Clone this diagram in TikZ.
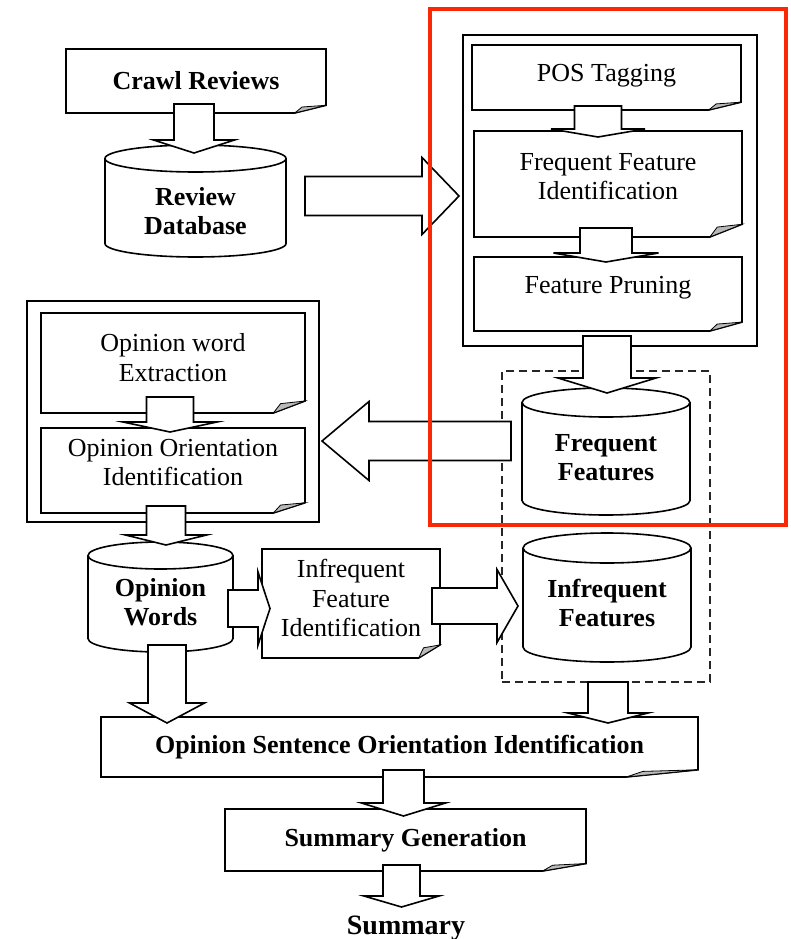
\documentclass[tikz,border=0pt]{standalone}
\usepackage{fontspec}
\setmainfont{Liberation Serif}
\usetikzlibrary{calc}
\definecolor{redframe}{RGB}{250,40,5}
\definecolor{foldgray}{RGB}{185,185,185}

\tikzset{
  ln/.style={line width=1.6pt, line join=miter},
  blk/.style={ln, fill=white, draw=black},
  shapebox/.style={draw=none, inner sep=0pt, outer sep=0pt},
  framebox/.style={ln, draw=black, fill=white, inner sep=0pt, outer sep=0pt},
  dashbox/.style={line width=1.6pt, draw=black!85, dash pattern=on 8pt off 5pt, inner sep=0pt, outer sep=0pt},
  redbox/.style={line width=4.5pt, draw=redframe, inner sep=0pt, outer sep=0pt},
  txt/.style={inner sep=0pt, align=center, font=\fontsize{26}{29.5}\selectfont},
  btxt/.style={inner sep=0pt, align=center, font=\fontsize{26}{28.5}\selectfont\bfseries},
}

% box node from image corners
\newcommand{\mkbox}[6][shapebox]{%
  \node[#1, minimum width={(#5-#3)*1pt}, minimum height={(#6-#4)*1pt}] (#2) at ({(#3+#5)/2},{(#4+#6)/2}) {};}

% document outline with folded corner
\newcommand{\docout}[1]{%
  \filldraw[blk] let \p1=(#1.south west), \p2=(#1.north east),
    \n1={0.12*(\x2-\x1)}, \n2={0.12*(\y2-\y1)} in
    (\x1,\y2) -- (\x2,\y2) -- (\x2,\y1+\n2) -- (\x2-\n1,\y1) -- (\x1,\y1) -- cycle;
  \filldraw[line width=0.8pt, fill=foldgray] let \p1=(#1.south west), \p2=(#1.north east),
    \n1={0.12*(\x2-\x1)}, \n2={0.12*(\y2-\y1)} in
    (\x2-\n1,\y1) -- (\x2-0.77*\n1,\y1+0.78*\n2) -- (\x2,\y1+\n2) -- cycle;}

% cylinder outline
\newcommand{\cylout}[2]{%
  \filldraw[blk] let \p1=(#1.south west), \p2=(#1.north east), \n1={(\x2-\x1)/2} in
    (\x1,\y2-#2) -- (\x1,\y1+#2) arc[start angle=180, end angle=360, x radius=\n1, y radius=#2]
    -- (\x2,\y2-#2) arc[start angle=0, end angle=180, x radius=\n1, y radius=#2] -- cycle;
  \draw[ln] let \p1=(#1.south west), \p2=(#1.north east), \n1={(\x2-\x1)/2} in
    (\x1,\y2-#2) arc[start angle=180, end angle=360, x radius=\n1, y radius=#2];}

% block arrows: start, tip, shaft half width, head half width, head length
\newcommand{\blockdown}[5]{%
  \filldraw[blk] let \p1=#1, \p2=#2 in
    (\x2-#3,\y1) -- (\x2+#3,\y1) -- (\x2+#3,\y2+#5) -- (\x2+#4,\y2+#5) -- (\x2,\y2)
    -- (\x2-#4,\y2+#5) -- (\x2-#3,\y2+#5) -- cycle;}
\newcommand{\blockright}[5]{%
  \filldraw[blk] let \p1=#1, \p2=#2 in
    (\x1,\y2+#3) -- (\x2-#5,\y2+#3) -- (\x2-#5,\y2+#4) -- (\x2,\y2)
    -- (\x2-#5,\y2-#4) -- (\x2-#5,\y2-#3) -- (\x1,\y2-#3) -- cycle;}
\newcommand{\blockleft}[5]{%
  \filldraw[blk] let \p1=#1, \p2=#2 in
    (\x1,\y2+#3) -- (\x2+#5,\y2+#3) -- (\x2+#5,\y2+#4) -- (\x2,\y2)
    -- (\x2+#5,\y2-#4) -- (\x2+#5,\y2-#3) -- (\x1,\y2-#3) -- cycle;}

\begin{document}
\begin{tikzpicture}[x=1pt, y=-1pt]
\useasboundingbox[fill=white] (0,0) rectangle (790,939);

% ---------- frames ----------
\mkbox[framebox]{outerR}{463}{35}{757}{346}
\mkbox[framebox]{opo}{27}{301}{319}{522}
\mkbox[dashbox]{dashed}{502}{371}{710}{682}

% ---------- document boxes ----------
\mkbox{crawl}{66}{49}{326}{113}
\mkbox{pos}{472}{45}{741}{110}
\mkbox{ffi}{474}{131}{742}{237}
\mkbox{fp}{474}{257}{742}{331}
\mkbox{owe}{41}{313}{305}{413}
\mkbox{ooi}{41}{428}{305}{513}
\mkbox{ifi}{262}{549}{440}{658}
\mkbox{osoi}{101}{717}{698}{777}
\mkbox{sg}{225}{809}{586}{871}
\foreach \b in {crawl,pos,ffi,fp,owe,ooi,ifi,osoi,sg} {\docout{\b}}

% ---------- cylinders ----------
\mkbox{db}{105}{145}{286}{257}
\mkbox{ff}{522}{388}{690}{515}
\mkbox{ow}{88}{542}{233}{652}
\mkbox{iff}{523}{533}{691}{662}
\cylout{db}{13.5pt}
\cylout{ff}{14.5pt}
\cylout{ow}{13.5pt}
\cylout{iff}{15pt}

% ---------- texts ----------
\node[btxt] (crawlt) at (crawl.center) {Crawl Reviews};
\node[txt] (post) at ($(pos.center)+(0,-1.5)$) {POS Tagging};
\node[txt] (ffit) at ($(ffi.center)+(0,-7.5)$) {Frequent Feature\\Identification};
\node[txt] (fpt) at ($(fp.center)+(0,-6)$) {Feature Pruning};
\node[txt] (owet) at ($(owe.center)+(0,-5.5)$) {Opinion word\\Extraction};
\node[txt] (ooit) at ($(ooi.center)+(0,-8)$) {Opinion Orientation\\Identification};
\node[txt] (ifit) at ($(ifi.center)+(0,-5.5)$) {Infrequent\\Feature\\Identification};
\node[btxt] (osoit) at (osoi.center) {Opinion Sentence Orientation Identification};
\node[btxt] (sgt) at (sg.center) {Summary Generation};
\node[btxt] (dbt) at ($(db.center)+(0,10)$) {Review\\Database};
\node[btxt] (fft) at ($(ff.center)+(0,6)$) {Frequent\\Features};
\node[btxt] (owt) at ($(ow.center)+(0,5)$) {Opinion\\Words};
\node[btxt] (ifft) at ($(iff.center)+(0,5.5)$) {Infrequent\\Features};
\node[inner sep=0pt, font=\fontsize{28}{32}\selectfont\bfseries] (sum) at (406,928) {Summary};

% ---------- block arrows ----------
\blockdown{($(crawl.south)+(0,-9)$)}{($(db.north)+(-1.5,8)$)}{20pt}{40.5pt}{13pt}
\blockright{($(db.east)+(19,0)$)}{($(outerR.west)+(-4,5.5)$)}{19.5pt}{38.5pt}{37pt}
\blockdown{($(pos.south)+(0,-4)$)}{($(ffi.north)+(-10,6)$)}{23.5pt}{47pt}{8pt}
\blockdown{($(ffi.south)+(0,-9)$)}{($(fp.north)+(-2,5)$)}{26pt}{52.5pt}{9pt}
\blockdown{($(outerR.south)+(0,-10)$)}{($(ff.north)+(1,5)$)}{24pt}{49pt}{15pt}
\blockleft{($(dashed.west)+(9,0)$)}{($(opo.east)+(3,29.5)$)}{19.5pt}{39.5pt}{47pt}
\blockdown{($(owe.south)+(0,-16)$)}{($(ooi.north)+(-3,4)$)}{23.5pt}{47pt}{10pt}
\blockdown{($(ooi.south)+(0,-7)$)}{($(ow.north)+(5.5,3)$)}{19.5pt}{40.5pt}{10pt}
\blockright{($(ow.east)+(-5,0)$)}{($(ifi.west)+(8,5)$)}{18.5pt}{36.5pt}{12pt}
\blockright{($(ifi.east)+(-8,0)$)}{($(iff.west)+(-5,8.5)$)}{18pt}{36.5pt}{21pt}
\blockdown{($(ow.south)+(0,-7)$)}{($(osoi.north west)+(66,6)$)}{19pt}{37.5pt}{20pt}
\blockdown{(dashed.south)}{($(osoi.north east)+(-90,6)$)}{20pt}{40pt}{10pt}
\blockdown{($(osoi.south)+(0,-7)$)}{($(sg.north)+(-2,7)$)}{20.5pt}{42pt}{13pt}
\blockdown{($(sg.south)+(0,-6)$)}{($(sg.south)+(-4,36)$)}{18.5pt}{37.5pt}{11pt}

% ---------- red highlight ----------
\mkbox[redbox]{red}{430}{9}{786}{525}
\end{tikzpicture}
\end{document}
